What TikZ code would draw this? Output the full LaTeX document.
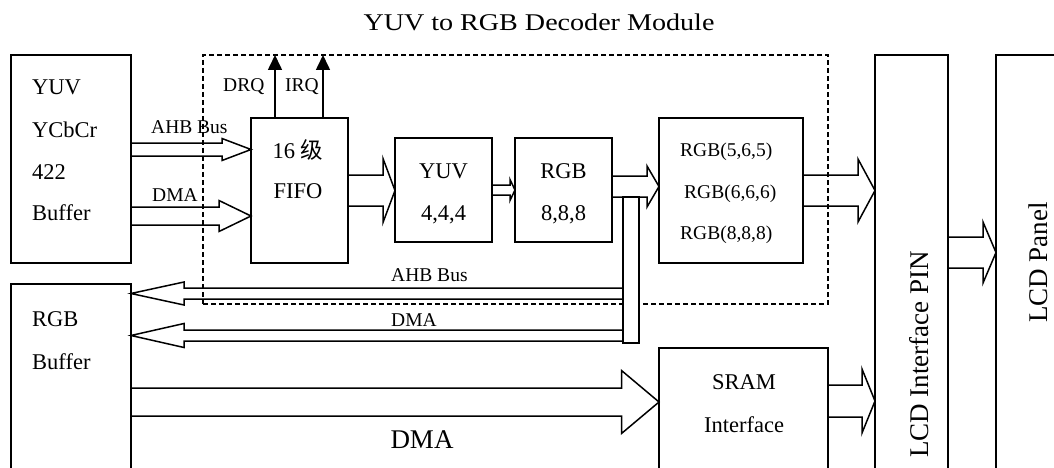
\documentclass[tikz,border=0pt]{standalone}
\usepackage{fontspec}
\setmainfont{Liberation Serif}
\newfontfamily\cjkfont{Noto Sans CJK SC}
\usetikzlibrary{calc,arrows.meta}

\tikzset{
  box/.style={draw, line width=1.6pt, rectangle, inner sep=0pt, outer sep=0pt},
  busbar/.style={box, fill=white},
  module/.style={draw, line width=1.6pt, dash pattern=on 5pt off 3pt, rectangle, inner sep=0pt, outer sep=0pt},
  lbl/.style={inner sep=0pt, font=\fontsize{22.5}{27}\selectfont},
  small/.style={inner sep=0pt, font=\fontsize{19.5}{23}\selectfont},
  large/.style={inner sep=0pt, font=\fontsize{27}{32}\selectfont},
  barrow/.style={draw, line width=1.5pt, line join=miter},
  sig/.style={line width=1.6pt, -{Triangle[width=14pt,length=15pt]}},
}

% hollow block arrow between two nodes:
% #1 source anchor, #2 target anchor, #3 centre line (y, downwards),
% #4 shaft half width, #5 head half width, #6 head length
\newcommand\blockarrow[6]{%
  \draw[barrow] let \p1=(#1), \p2=(#2), \n1={(\x2>\x1)*2-1} in
    (\x1,{(-(#3)+(#4))*1pt})
    -- ({\x2-\n1*(#6)},{(-(#3)+(#4))*1pt})
    -- ({\x2-\n1*(#6)},{(-(#3)+(#5))*1pt})
    -- (\x2,{(-(#3))*1pt})
    -- ({\x2-\n1*(#6)},{(-(#3)-(#5))*1pt})
    -- ({\x2-\n1*(#6)},{(-(#3)-(#4))*1pt})
    -- (\x1,{(-(#3)-(#4))*1pt});}

\begin{document}
\begin{tikzpicture}[x=1pt,y=-1pt]
\useasboundingbox (0,0) rectangle (1054,468);
\clip (0,0) rectangle (1054,468);

% title
\node[anchor=base, inner sep=0pt] (title) at (539,31)
  {\fontsize{24}{28}\selectfont\scalebox{1.17}[1]{YUV to RGB Decoder Module}};

% decoder module outline
\node[module, minimum width=625pt, minimum height=249pt] (mod) at (515.5,179.5) {};

% blocks
\node[box, minimum width=120pt, minimum height=208pt] (yuvbuf) at (71,159) {};
\node[box, minimum width=97pt,  minimum height=145pt] (fifo)   at (299.5,190.5) {};
\node[box, minimum width=97pt,  minimum height=104pt] (yuv444) at (443.5,190) {};
\node[box, minimum width=97pt,  minimum height=104pt] (rgb888) at (563.5,190) {};
\node[box, minimum width=144pt, minimum height=145pt] (fmt)    at (731,190.5) {};
\node[box, minimum width=73pt,  minimum height=465pt] (lcdif)  at (911.5,287.5) {};
\node[box, minimum width=104pt, minimum height=465pt] (panel)  at (1048,287.5) {};
\node[box, minimum width=120pt, minimum height=236pt] (rgbbuf) at (71,402) {};
\node[box, minimum width=169pt, minimum height=172pt] (sram)   at (743.5,434) {};
\node[busbar, minimum width=16pt, minimum height=146pt] (bus)  at (631,270) {};

% block texts
\node[lbl, anchor=base west] (yb1) at (32,95)  {YUV};
\node[lbl, anchor=base west] (yb2) at (32,137) {YCbCr};
\node[lbl, anchor=base west] (yb3) at (32,179) {422};
\node[lbl, anchor=base west] (yb4) at (32,220) {Buffer};

\node[lbl, anchor=base] (ff1) at (298,158) {16 {\cjkfont 级}};
\node[lbl, anchor=base] (ff2) at (298,198) {FIFO};

\node[lbl, anchor=base] (yv1) at (443.5,178) {YUV};
\node[lbl, anchor=base] (yv2) at (443.5,220) {4,4,4};

\node[lbl, anchor=base] (rg1) at (563.5,178) {RGB};
\node[lbl, anchor=base] (rg2) at (563.5,220) {8,8,8};

\node[small, anchor=base west] (fm1) at (680,156) {RGB(5,6,5)};
\node[small, anchor=base west] (fm2) at (684,198) {RGB(6,6,6)};
\node[small, anchor=base west] (fm3) at (680,239) {RGB(8,8,8)};

\node[lbl, anchor=base west] (rb1) at (32,326) {RGB};
\node[lbl, anchor=base west] (rb2) at (32,369) {Buffer};

\node[lbl, anchor=base] (sr1) at (744,389) {SRAM};
\node[lbl, anchor=base] (sr2) at (744,432) {Interface};

\node[large, rotate=90, anchor=base west] (lcdtxt) at (928,458) {LCD Interface PIN};
\node[large, rotate=90, anchor=base west] (paneltxt) at (1047,323) {LCD Panel};

% request lines
\coordinate (drqtip) at (275,55);
\coordinate (irqtip) at (323,55);
\draw[sig] (fifo.north -| drqtip) -- (drqtip);
\draw[sig] (fifo.north -| irqtip) -- (irqtip);
\node[small, anchor=base west] (drq) at (223,92) {DRQ};
\node[small, anchor=base west] (irq) at (285,92) {IRQ};

% data paths
\blockarrow{yuvbuf.east}{fifo.west}{149.5}{6.5}{11}{29}
\blockarrow{yuvbuf.east}{fifo.west}{216}{9}{15.5}{32}
\node[small, anchor=base west] (ahbin) at (151,134) {AHB Bus};
\node[small, anchor=base west] (dmain) at (152,201) {DMA};

\blockarrow{fifo.east}{yuv444.west}{190.5}{15.5}{32}{12}
\blockarrow{yuv444.east}{rgb888.west}{190}{5}{10.5}{5}
\blockarrow{rgb888.east}{fmt.west}{186.5}{10.5}{20.5}{12}
\blockarrow{fmt.east}{lcdif.west}{190.5}{15.5}{31.5}{17}
\blockarrow{lcdif.east}{panel.west}{252.5}{15.5}{30.5}{13}

\blockarrow{bus.west}{rgbbuf.east}{293.5}{5.5}{11.5}{53}
\blockarrow{bus.west}{rgbbuf.east}{335.5}{5.5}{12}{53}
\node[small, anchor=base west] (ahbout) at (391,281) {AHB Bus};
\node[small, anchor=base west] (dmaout) at (391,326) {DMA};

\blockarrow{rgbbuf.east}{sram.west}{402}{14}{31.5}{37.5}
\node[large, anchor=base] (dmabig) at (422,448) {DMA};
\blockarrow{sram.east}{lcdif.west}{401}{16}{32}{13}
\end{tikzpicture}
\end{document}
